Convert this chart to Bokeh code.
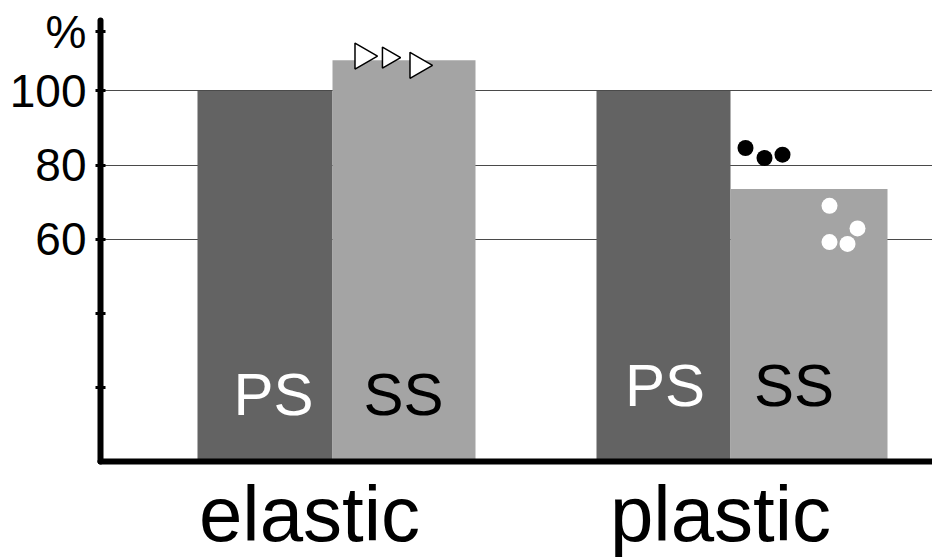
import numpy as np
from bokeh.plotting import figure
from bokeh.models import Range1d, FixedTicker
from bokeh.core.properties import value
from bokeh.embed import file_html
from bokeh.resources import INLINE

# ---- data ----
groups = ["elastic", "plastic"]
series = ["PS", "SS"]
ps_values = [100, 100]
ss_values = [108.3, 73.5]
y_ticks = [20, 40, 60, 80, 100]
y_tick_labels = ["", "", "60", "80", "100"]
unit_label = "%"
unit_label_at = 116
elastic_ss_points = [109.4, 109.0, 106.9]          # triangles
plastic_ps_points = [84.6, 81.9, 82.8]             # black dots
plastic_ss_points = [69.0, 62.9, 59.2, 58.7]       # white dots

# ---- layout (pixel-like x units) ----
bar_edges = {  # (left, right) per group per series
    ("elastic", "PS"): (197, 332), ("elastic", "SS"): (332, 475),
    ("plastic", "PS"): (596, 730), ("plastic", "SS"): (730, 887),
}
group_label_x = [309, 720]
bar_label_x = {("elastic", "PS"): 273, ("elastic", "SS"): 403,
               ("plastic", "PS"): 664.5, ("plastic", "SS"): 793.5}
bar_label_y = {"elastic": 18.2, "plastic": 20.4}
tri_x = [362, 388, 417]
tri_size = [26, 21, 26]
black_x = [745, 764, 782]
white_x = [829, 857, 829, 847]
FONT = "Liberation Sans"
PS_COLOR = "#636363"
SS_COLOR = "#a4a4a4"

W, H = 932, 560
p = figure(width=W, height=H, output_backend="svg", toolbar_location=None,
           x_range=Range1d(100, 932), y_range=Range1d(0, 119),
           min_border_left=100, min_border_right=0, min_border_top=20, min_border_bottom=99)
p.outline_line_color = None
p.background_fill_color = "white"
p.xgrid.grid_line_color = None
p.ygrid.ticker = FixedTicker(ticks=[60, 80, 100])
p.ygrid.grid_line_color = "#4a4a4a"
p.ygrid.grid_line_width = 1

# bars
lefts, rights, tops, colors = [], [], [], []
for gi, g in enumerate(groups):
    for s, vals, col in (("PS", ps_values, PS_COLOR), ("SS", ss_values, SS_COLOR)):
        l, r = bar_edges[(g, s)]
        lefts.append(l); rights.append(r); tops.append(vals[gi]); colors.append(col)
p.quad(left=lefts, right=rights, bottom=0, top=tops, fill_color=colors, line_color=None)

# bar labels
tx, ty, tt, tc = [], [], [], []
for g in groups:
    for s in series:
        tx.append(bar_label_x[(g, s)])
        ty.append(bar_label_y[g]); tt.append(s)
        tc.append("white" if s == "PS" else "black")
p.text(x=tx, y=ty, text=tt, text_color=tc, text_font=value(FONT),
       text_font_size="60px", text_align="center", text_baseline="alphabetic")

# points
p.scatter(x=tri_x, y=elastic_ss_points, marker="triangle", size=tri_size,
          angle=-np.pi / 2, fill_color="white", line_color="black", line_width=1.5)
p.scatter(x=black_x, y=plastic_ps_points, marker="circle", size=16,
          fill_color="black", line_color=None)
p.scatter(x=white_x, y=plastic_ss_points, marker="circle", size=16,
          fill_color="white", line_color=None)

# y axis
yax = p.yaxis[0]
yax.ticker = FixedTicker(ticks=y_ticks + [unit_label_at])
overrides = {t: l for t, l in zip(y_ticks, y_tick_labels)}
overrides[unit_label_at] = unit_label
yax.major_label_overrides = overrides
yax.axis_line_width = 6
yax.axis_line_cap = "round"
yax.axis_line_color = "black"
yax.major_tick_in = 5
yax.major_tick_out = 5
yax.major_tick_line_width = 3
yax.minor_tick_line_color = None
yax.major_label_text_font = FONT
yax.major_label_text_font_size = "46px"
yax.major_label_text_color = "black"
yax.major_label_standoff = 9

# x axis
xax = p.xaxis[0]
xax.ticker = FixedTicker(ticks=group_label_x)
xax.major_label_overrides = {x: g for x, g in zip(group_label_x, groups)}
xax.axis_line_width = 6
xax.axis_line_cap = "round"
xax.axis_line_color = "black"
xax.major_tick_line_color = None
xax.minor_tick_line_color = None
xax.major_tick_in = 0
xax.major_tick_out = 0
xax.major_label_text_font = FONT
xax.major_label_text_font_size = "78px"
xax.major_label_text_color = "black"
xax.major_label_standoff = 8

open("out.html", "w").write(file_html(p, INLINE))
